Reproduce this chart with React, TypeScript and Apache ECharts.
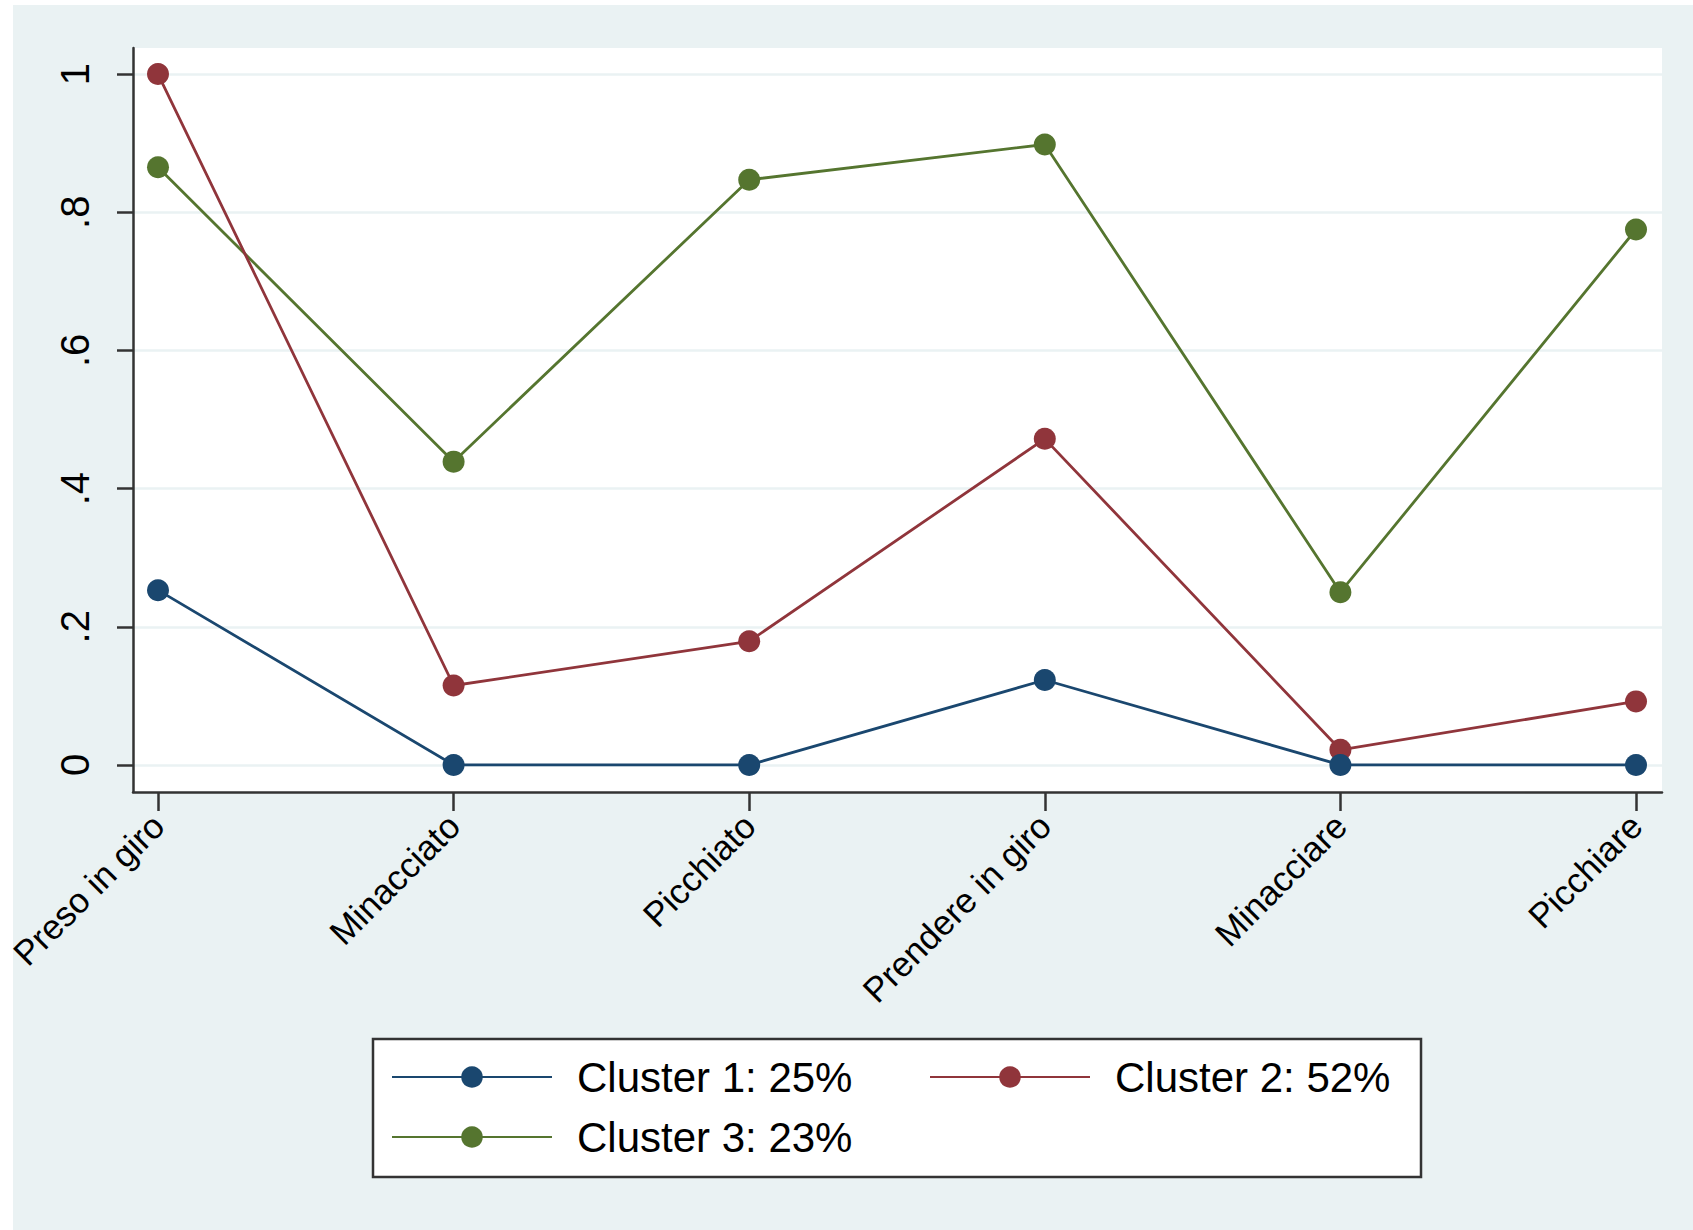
import React, { useEffect, useRef } from "react";
import * as echarts from "echarts";

const categories = ["Preso in giro", "Minacciato", "Picchiato", "Prendere in giro", "Minacciare", "Picchiare"];
const seriesNames = ["Cluster 1: 25%", "Cluster 2: 52%", "Cluster 3: 23%"];
const cluster1 = [0.253, 0, 0, 0.123, 0, 0];
const cluster2 = [1.0, 0.115, 0.179, 0.472, 0.022, 0.092];
const cluster3 = [0.865, 0.439, 0.847, 0.898, 0.25, 0.775];
const yTicks = [0, 0.2, 0.4, 0.6, 0.8, 1];
const xTicks = [0, 1, 2, 3, 4, 5];
const colors = ["#1A476F", "#90353B", "#55752F"];

const FONT = "'Liberation Sans', Arial, Helvetica, sans-serif";

export default function App() {
  const ref = useRef<HTMLDivElement>(null);
  useEffect(() => {
    if (!ref.current) return;
    const chart = echarts.init(ref.current, null, { renderer: "svg" });
    const values = [cluster1, cluster2, cluster3];
    const axisColor = "#333333";
    const fmtY = (v: number) => {
      if (Math.abs(v) < 1e-9) return "0";
      if (Math.abs(v - 1) < 1e-9) return "1";
      return v.toFixed(1).replace(/^0/, "");
    };
    const legendText = {
      fontSize: 42,
      lineHeight: 42,
      color: "#000000",
      fontFamily: FONT,
      padding: [0, 0, 0, 20],
    };
    chart.setOption({
      animation: false,
      backgroundColor: "#ffffff",
      textStyle: { fontFamily: FONT },
      graphic: [
        {
          type: "rect",
          z: -100,
          silent: true,
          shape: { x: 13, y: 5, width: 1680, height: 1225 },
          style: { fill: "#EAF2F3" },
        },
        {
          type: "rect",
          z: 1,
          silent: true,
          shape: { x: 373, y: 1039, width: 1048, height: 138 },
          style: { fill: "#ffffff", stroke: axisColor, lineWidth: 2.5 },
        },
      ],
      grid: {
        left: 133,
        right: 31,
        top: 48,
        bottom: 438,
        show: true,
        backgroundColor: "#ffffff",
        borderWidth: 0,
        containLabel: false,
        outerBoundsMode: "none",
      },
      xAxis: {
        type: "value",
        min: -25 / 295.6,
        max: 5 + 26 / 295.6,
        axisLine: { show: true, onZero: false, lineStyle: { color: axisColor, width: 2.5 } },
        axisTick: { show: true, customValues: xTicks, length: 19, lineStyle: { color: axisColor, width: 2.5 } },
        axisLabel: {
          customValues: xTicks,
          rotate: 45,
          margin: 28,
          fontSize: 35,
          color: "#000000",
          fontFamily: FONT,
          formatter: (v: number) => categories[Math.round(v)] ?? "",
        },
        splitLine: { show: false },
      },
      yAxis: {
        type: "value",
        min: -27 / 690,
        max: 1 + 26 / 690,
        axisLine: { show: true, onZero: false, lineStyle: { color: axisColor, width: 2.5 } },
        axisTick: { show: true, customValues: yTicks, length: 16, lineStyle: { color: axisColor, width: 2.5 } },
        axisLabel: {
          customValues: yTicks,
          rotate: 90,
          margin: 38,
          fontSize: 40,
          color: "#000000",
          fontFamily: FONT,
          formatter: (v: number) => fmtY(v),
        },
        splitLine: { show: true, lineStyle: { color: "#EAF2F3", width: 2.5 } },
      },
      legend: [
        {
          data: [seriesNames[0], seriesNames[2]],
          orient: "vertical",
          left: 386,
          top: 1051,
          itemWidth: 160,
          itemHeight: 27,
          itemGap: 18,
          textStyle: legendText,
        },
        {
          data: [seriesNames[1]],
          orient: "vertical",
          left: 924,
          top: 1051,
          itemWidth: 160,
          itemHeight: 27,
          itemGap: 18,
          textStyle: legendText,
        },
      ],
      series: values.map((vals, si) => ({
        name: seriesNames[si],
        type: "line",
        symbol: "circle",
        symbolSize: 22,
        z: 3 + (2 - si),
        data: vals.map((v, i) => [i, v]),
        lineStyle: { color: colors[si], width: 2.8 },
        itemStyle: { color: colors[si] },
      })),
    });
    return () => chart.dispose();
  }, []);
  return (
    <div
      ref={ref}
      style={{ position: "absolute", left: 0, top: 0, width: 1693, height: 1230 }}
    />
  );
}
